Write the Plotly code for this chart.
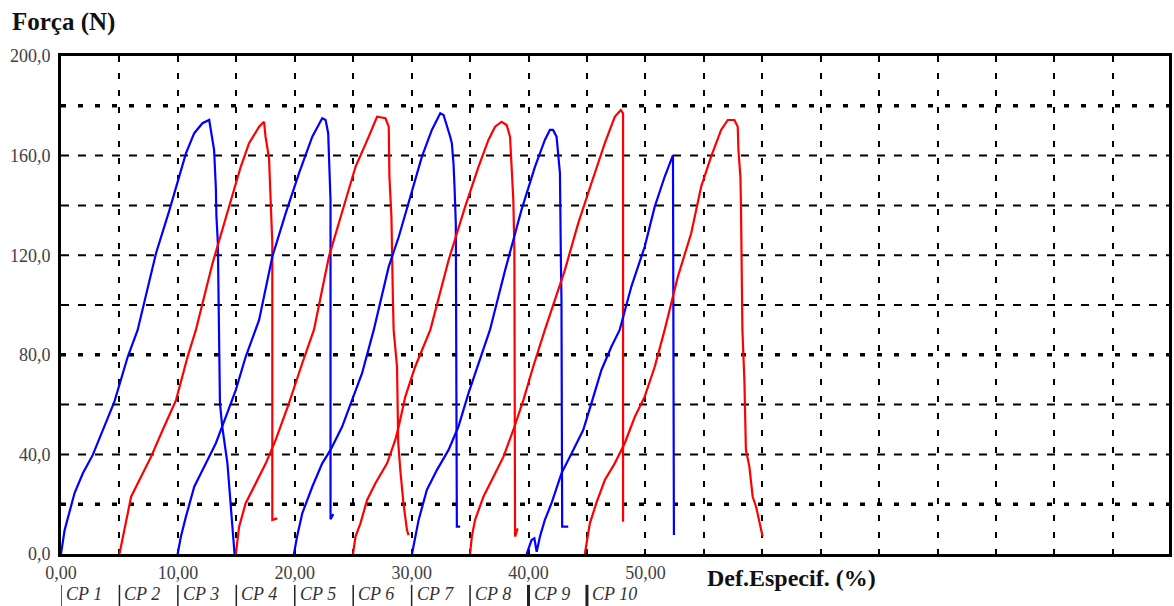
import plotly.graph_objects as go

# ---------------- data ----------------
CP1_X = [0.0, 0.31, 1.16, 1.87, 2.72, 3.58, 4.57, 5.71, 6.56, 8.13, 9.27, 10.69, 11.4, 12.1, 12.68, 12.82, 13.1, 13.25, 13.3, 13.42, 13.47, 13.5, 13.6, 13.8, 14.24, 14.53, 14.67, 14.85]
CP1_Y = [0, 9.6, 24.5, 32.4, 39.8, 49.8, 61.2, 79.2, 90, 120.8, 138, 160.9, 169, 173, 174.3, 170.3, 162.2, 146.9, 135.5, 125, 102, 90, 60.5, 51, 36.4, 19, 9.6, 0]

CP2_X = [5.0, 5.43, 6.0, 6.71, 7.7, 8.7, 9.84, 10.83, 11.54, 12.96, 14.1, 15.38, 16.09, 16.95, 17.37, 17.5, 17.8, 17.86, 18.03, 18.08, 18.08, 18.5]
CP2_Y = [0, 9.6, 23, 29.7, 39, 49.8, 61.8, 79.2, 90, 116.7, 135.5, 155.5, 165, 171.6, 173.6, 167.6, 158.9, 151.5, 135.5, 124.8, 13.7, 14.3]

CP3_X = [9.98, 10.26, 10.69, 11.4, 12.4, 13.25, 14.1, 14.96, 15.8, 16.66, 16.95, 18.08, 19.22, 20.36, 21.5, 22.35, 22.64, 22.86, 22.98, 23.06, 23.06, 23.3]
CP3_Y = [0, 7, 15, 27, 36.4, 44.5, 55.1, 65.9, 79.2, 90, 94, 119.4, 136.8, 152.9, 167.6, 175, 174.3, 169, 155.5, 142, 14, 16]

CP4_X = [14.96, 15.24, 15.8, 16.66, 17.52, 18.37, 19.5, 20.64, 21.64, 22.92, 24.05, 25.2, 26.33, 27.04, 27.76, 28.04, 28.1, 28.27, 28.4, 28.46, 28.75, 28.85, 29.03, 29.3, 29.6, 29.74]
CP4_Y = [0, 11, 20.4, 28.4, 36.4, 45.8, 60.5, 76.6, 90, 119.4, 136.8, 155.5, 167.6, 175.6, 175, 171.6, 151.5, 135.5, 102, 90, 75.2, 45, 33.7, 20.4, 9.6, 7.6]

CP5_X = [19.93, 20.2, 20.64, 21.5, 22.35, 23.06, 24.05, 24.9, 25.76, 26.76, 28.04, 28.9, 30.02, 30.88, 31.73, 32.45, 32.73, 33.16, 33.3, 33.44, 33.58, 33.67, 33.78, 33.87, 34.15]
CP5_Y = [0, 7, 16.3, 27, 36.4, 41.8, 51.1, 61.8, 72.6, 90, 115.4, 127.4, 146.2, 159.6, 170.3, 177, 176.3, 170.3, 167.6, 165, 156.9, 147.5, 132.8, 11, 11]

CP6_X = [24.98, 25.2, 25.62, 26.19, 26.9, 27.9, 28.6, 28.89, 29.46, 30.3, 31.6, 33.16, 34.58, 35.72, 36.57, 37.14, 37.7, 38.13, 38.42, 38.56, 38.7, 38.79, 38.79, 38.85, 39.07]
CP6_Y = [0, 7, 12.3, 21.7, 28.4, 36.4, 45.8, 51.1, 63.2, 75.2, 90, 118, 139.5, 155.5, 166.3, 171.6, 173.6, 172.3, 167.6, 155.5, 142.2, 122, 17.7, 7, 10.3]

CP7_X = [30.03, 30.3, 30.6, 31.3, 32.16, 33.16, 34.0, 34.86, 35.86, 36.7, 38.0, 39.4, 40.55, 41.4, 41.83, 42.1, 42.4, 42.54, 42.69, 42.77, 42.82, 42.88, 43.4]
CP7_Y = [0, 7, 13.7, 25.7, 33.7, 41.8, 51.1, 64.5, 77.9, 90, 114, 138.2, 155.5, 166.3, 170.3, 170.3, 167.6, 159.6, 152.9, 118, 102, 11, 11]

CP8_X = [35.0, 35.15, 35.43, 36.14, 37.0, 37.85, 38.7, 39.56, 40.4, 41.4, 43.11, 44.25, 45.38, 46.53, 47.38, 47.9, 48.09, 48.09]
CP8_Y = [0, 7, 13.7, 23, 31, 39, 49.8, 61.8, 75.2, 90, 114, 132.8, 148.9, 165, 175.6, 178.3, 177, 13]

CP9_X = [39.84, 40.26, 40.5, 40.7, 40.98, 41.4, 41.97, 42.82, 43.68, 44.68, 45.38, 46.24, 47.1, 47.8, 48.8, 49.94, 50.8, 51.65, 52.36, 52.44]
CP9_Y = [0, 5.6, 6.3, 0.9, 7, 13.7, 20.4, 32.4, 40.4, 49.8, 60.5, 73.9, 83.3, 90, 107.4, 123.4, 139.5, 151.5, 160.2, 7.6]

CP10_X = [44.82, 45.1, 45.25, 45.8, 46.53, 47.38, 48.23, 49.1, 49.94, 50.8, 51.65, 52.78, 53.92, 54.77, 55.62, 56.48, 57.05, 57.62, 57.9, 57.96, 58.13, 58.18, 58.3, 58.47, 58.6, 58.9, 59.18, 59.47, 59.76, 60.03]
CP10_Y = [0, 7, 12.3, 20.4, 29.7, 36.4, 44.5, 55.1, 63.2, 75.2, 90, 111.4, 128.8, 147.5, 159.6, 170.3, 174.3, 174.3, 171.6, 162.2, 151.5, 139.5, 90, 69.9, 41.8, 35, 23, 19, 12.3, 7]

SERIES_NAMES = ["CP 1", "CP 2", "CP 3", "CP 4", "CP 5", "CP 6", "CP 7", "CP 8", "CP 9", "CP 10"]
SERIES_OFFSETS = [0, 5, 10, 15, 20, 25, 30, 35, 40, 45]   # start strain of each specimen (legend position)

X_TICK_VALS = [0, 5, 10, 15, 20, 25, 30, 35, 40, 45, 50, 55, 60, 65, 70, 75, 80, 85, 90]
X_TICK_TEXT = ["0,00", "", "10,00", "", "20,00", "", "30,00", "", "40,00", "", "50,00",
               "", "", "", "", "", "", "", ""]
Y_TICK_VALS = [0, 20, 40, 60, 80, 100, 120, 140, 160, 180, 200]
Y_TICK_TEXT = ["0,0", "", "40,0", "", "80,0", "", "120,0", "", "160,0", "", "200,0"]
Y_GRID_DASHED = [40, 60, 100, 120, 140, 160]
Y_GRID_HEAVY = [20, 80, 180]

# ---------------- figure ----------------
xs = [CP1_X, CP2_X, CP3_X, CP4_X, CP5_X, CP6_X, CP7_X, CP8_X, CP9_X, CP10_X]
ys = [CP1_Y, CP2_Y, CP3_Y, CP4_Y, CP5_Y, CP6_Y, CP7_Y, CP8_Y, CP9_Y, CP10_Y]
colors = ["#0000FF", "#FF0000"]

fig = go.Figure()
for i, (x, y) in enumerate(zip(xs, ys)):
    fig.add_trace(go.Scatter(x=x, y=y, mode="lines", name=SERIES_NAMES[i],
                             line=dict(color=colors[i % 2], width=2.2),
                             showlegend=False, hoverinfo="skip"))

shapes = []
for v in Y_GRID_DASHED:
    shapes.append(dict(type="line", xref="paper", yref="y", x0=0, x1=1, y0=v, y1=v,
                       line=dict(color="black", width=2, dash="8px,9px"), layer="below"))
for v in Y_GRID_HEAVY:
    shapes.append(dict(type="line", xref="paper", yref="y", x0=0, x1=1, y0=v, y1=v,
                       line=dict(color="black", width=3.5, dash="5px,12px"), layer="below"))

annotations = [
    dict(text="<b>Força (N)</b>", xref="paper", yref="paper", x=-0.046, y=1.068,
         xanchor="left", yanchor="middle", showarrow=False,
         font=dict(family="Liberation Serif", size=25, color="#111")),
    dict(text="<b>Def.Especif. (%)</b>", xref="paper", yref="paper", x=0.5815, y=-0.048,
         xanchor="left", yanchor="middle", showarrow=False,
         font=dict(family="Liberation Serif", size=24, color="#111")),
]
for i, name in enumerate(SERIES_NAMES):
    annotations.append(dict(text="<i>" + name + "</i>", xref="x", yref="paper",
                            x=SERIES_OFFSETS[i], y=-0.081, xanchor="left", yanchor="middle",
                            xshift=3, showarrow=False,
                            font=dict(family="Liberation Serif", size=18, color="#333")))
    shapes.append(dict(type="line", xref="x", yref="paper", x0=SERIES_OFFSETS[i], x1=SERIES_OFFSETS[i],
                       y0=-0.062, y1=-0.11,
                       line=dict(color="#222", width=3 if i >= 8 else 1.5)))

fig.update_layout(
    width=1174, height=606,
    margin=dict(l=61, r=2, t=56, b=52),
    paper_bgcolor="white", plot_bgcolor="white",
    shapes=shapes, annotations=annotations,
    xaxis=dict(range=[0, 94.8], tickvals=X_TICK_VALS, ticktext=X_TICK_TEXT,
               showgrid=True, gridcolor="black", gridwidth=2, griddash="6px,11px",
               zeroline=False, showline=True, linecolor="black", linewidth=3, mirror=True,
               ticks="", tickfont=dict(family="Liberation Serif", size=18, color="#404040"),
               ticklabelstandoff=0),
    yaxis=dict(range=[0, 200], tickvals=Y_TICK_VALS, ticktext=Y_TICK_TEXT,
               showgrid=False, zeroline=False, showline=True, linecolor="black", linewidth=3,
               mirror=True, ticks="", ticklabelstandoff=4,
               tickfont=dict(family="Liberation Serif", size=18, color="#404040")),
)

fig.write_html("out.html")
